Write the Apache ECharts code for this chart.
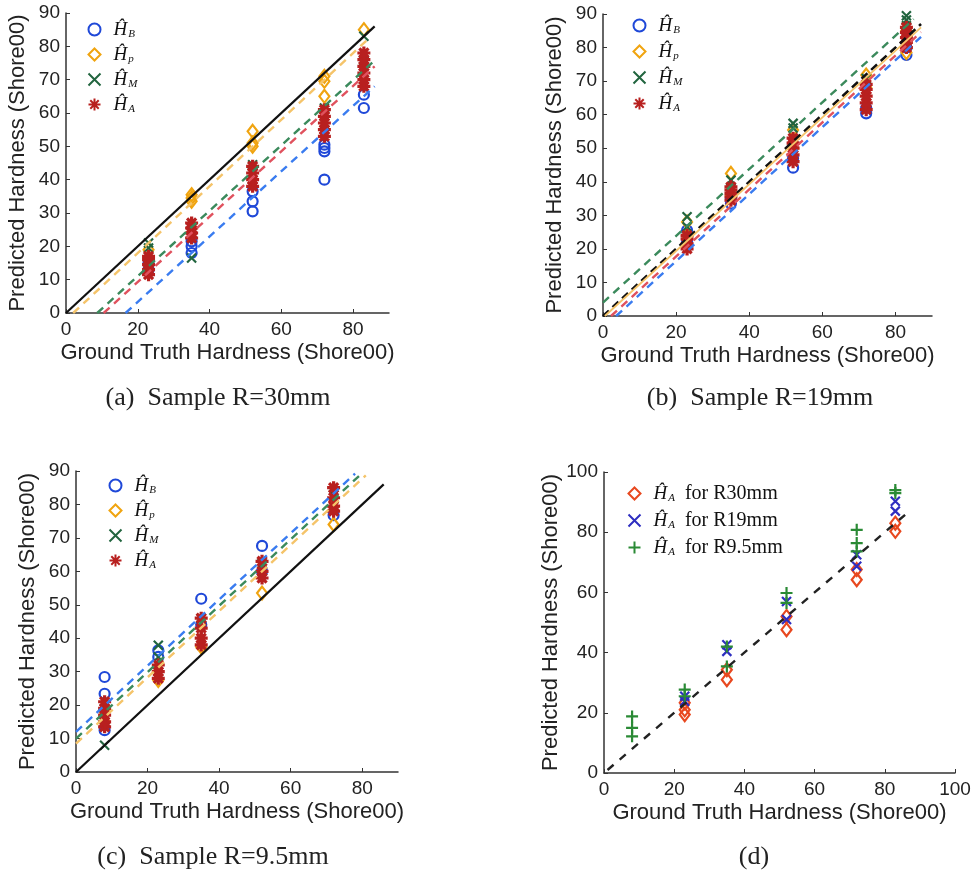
<!DOCTYPE html>
<html>
<head>
<meta charset="utf-8">
<script src="https://cdn.jsdelivr.net/npm/echarts@6/dist/echarts.min.js"></script>
<style>html,body{margin:0;padding:0;background:#fff}#c{width:974px;height:880px}</style>
</head>
<body>
<div id="c"></div>
<script>
// ---------- data ----------
// (a) Sample R=30mm
const xA = [23, 35, 52, 72, 83];
const aB = [[13, 15], [18, 20, 21.5], [30.5, 33.5, 36.5], [40, 48.5, 49.5, 50.5], [61.5, 65.5]];
const aP = [[19], [33.5, 34.5, 35.5], [50, 51, 54.5], [65, 69.5, 71], [85]];
const aM = [[19.5, 21], [16.5], [44.5], [61.5], [75.5, 83]];
const aA = [[11.5, 13, 14.5, 16, 17], [22.5, 24, 25.5, 27], [38, 40, 42, 44], [53, 55, 57, 59, 61], [68, 70, 72, 74, 76, 78]];
const aFitRef = [[0, 0], [86, 86]];
const aFitB = [[16.6, 0], [86, 68]];
const aFitA = [[10.5, 0], [86, 74]];
const aFitM = [[8.7, 0], [86, 75.8]];
const aFitP = [[2, 0], [84, 82]];

// (b) Sample R=19mm
const xB = [23, 35, 52, 72, 83];
const bB = [[22, 25.5], [33.5, 35], [44.2, 47], [60.4, 62], [77.8, 80]];
const bP = [[24, 28], [36, 42.5], [50, 55.4], [68, 71.8], [78.5, 85]];
const bM = [[26.6, 29.6], [38, 40.5], [56, 57.4], [70.8], [86.5, 88.2, 89.5]];
const bA = [[20, 21.5, 23, 24], [34.5, 35.5, 36.5, 37.5, 38.5], [46, 48, 50, 51.5, 53], [61.5, 63.5, 65.5, 67.5, 69], [80, 81.5, 83, 84.5, 86]];
const bFitRef = [[0, 0], [87, 87]];
const bFitM = [[0, 4], [85, 88.5]];
const bFitP = [[0.5, 0], [87, 86]];
const bFitA = [[2.2, 0], [87, 84.6]];
const bFitB = [[3.6, 0], [87, 83.2]];

// (c) Sample R=9.5mm
const xC = [8, 23, 35, 52, 72];
const cB = [[12.5, 23.4, 28.4], [34.4, 36.4], [44, 51.8], [60, 67.6], [76.8]];
const cP = [[15, 18], [27.4], [37.4], [53.5], [74]];
const cM = [[8], [34.4, 37.9], [45.9], [62.3], [82.8]];
const cA = [[13.5, 15, 17, 19, 21], [28, 30, 32], [38, 40, 43, 46], [58, 60, 63], [78, 79.5, 82, 85]];
const cFitRef = [[0, 0], [86, 86]];
const cFitB = [[0, 12], [78, 89.2]];
const cFitM = [[0, 10], [80.3, 89.7]];
const cFitP = [[0, 8.5], [81, 88.7]];

// (d) all samples, H_A
const xD = [8, 23, 35, 52, 72, 83];
const d30 = [[], [19.4, 21, 23.3], [31, 34.3], [47.6, 52], [64.2, 67.6], [80.3, 83]];
const d19 = [[], [23.8, 25.5], [40.4, 42.6], [51, 57], [68.7, 72.5], [87, 90.3]];
const d95 = [[12.2, 15, 18.8], [25.5, 27.7], [35.4, 42], [56.5, 59.8], [73.6, 76.4, 80.8], [93, 94]];
const dFitRef = [[1, 1], [86, 86]];

// tick labels
const ticks90x = [0, 20, 40, 60, 80];
const ticks100x = [0, 20, 40, 60, 80, 100];
const ticks90y = [0, 10, 20, 30, 40, 50, 60, 70, 80, 90];
const ticks100y = [0, 20, 40, 60, 80, 100];

const xTitle = 'Ground Truth Hardness (Shore00)';
const yTitle = 'Predicted Hardness (Shore00)';
const captions = ['(a)  Sample R=30mm', '(b)  Sample R=19mm', '(c)  Sample R=9.5mm', '(d)'];

// ---------- styles ----------
const C = {
  blue: '#1f48d8', gold: '#f0a410', green: '#22653f', red: '#b8201f',
  lblue: '#3a7cf0', lgold: '#f5c46a', lgreen: '#3b8a5c', lred: '#e0525e',
  d30: '#e8481f', d19: '#2e2ec0', d95: '#2a8a35'
};
const SYM = {
  x: 'path://M0,0L10,10M10,0L0,10',
  plus: 'path://M5,0L5,10M0,5L10,5',
  star: 'path://M5,0L5,10M0,5L10,5M1.5,1.5L8.5,8.5M8.5,1.5L1.5,8.5'
};

function pts(xs, groups) {
  const out = [];
  groups.forEach((g, i) => g.forEach(y => out.push([xs[i], y])));
  return out;
}

function scat(name, gi, data, kind, color) {
  const s = { type: 'scatter', name, xAxisIndex: gi, yAxisIndex: gi, data, z: 2, silent: true, animation: false };
  if (kind === 'o') { s.symbol = 'circle'; s.symbolSize = 10; s.itemStyle = { color: 'transparent', borderColor: color, borderWidth: 2.2, opacity: 1 }; }
  if (kind === 'd') { s.symbol = 'diamond'; s.symbolSize = [10, 13]; s.itemStyle = { color: 'transparent', borderColor: color, borderWidth: 2.2, opacity: 1 }; }
  if (kind === 'x') { s.symbol = SYM.x; s.symbolSize = 9; s.itemStyle = { color: 'none', borderColor: color, borderWidth: 2.2, opacity: 1 }; }
  if (kind === '+') { s.symbol = SYM.plus; s.symbolSize = 12; s.itemStyle = { color: 'none', borderColor: color, borderWidth: 2.2, opacity: 1 }; }
  if (kind === '*') { s.symbol = SYM.star; s.symbolSize = 13; s.itemStyle = { color: 'none', borderColor: color, borderWidth: 3.2, opacity: 1 }; }
  return s;
}
function fit(gi, data, color, dash, width) {
  return { type: 'line', xAxisIndex: gi, yAxisIndex: gi, data, showSymbol: false, symbol: 'none', z: 4, silent: true, animation: false,
    lineStyle: { color, width: width || 2.4, type: dash || 'solid' } };
}

const grids = [
  { left: 66, top: 13, width: 323, height: 300 },
  { left: 603, top: 14, width: 329, height: 302 },
  { left: 76, top: 471, width: 322, height: 301 },
  { left: 604, top: 472, width: 351, height: 301 }
];
const axisFont = { fontFamily: 'Liberation Sans', fontSize: 19, color: '#222' };
const nameFont = { fontFamily: 'Liberation Sans', fontSize: 22, color: '#222' };

function xAx(gi, max, tv) {
  return { type: 'value', gridIndex: gi, min: 0, max, name: xTitle, nameLocation: 'middle', nameGap: 29, nameTextStyle: nameFont,
    axisLine: { show: true, onZero: false, lineStyle: { color: '#333', width: 1.5 } },
    axisTick: { show: true, inside: true, length: 4, customValues: tv, lineStyle: { color: '#333' } },
    axisLabel: Object.assign({ margin: 7, customValues: tv }, axisFont), splitLine: { show: false } };
}
function yAx(gi, max, tv) {
  return { type: 'value', gridIndex: gi, min: 0, max, name: yTitle, nameLocation: 'middle', nameGap: 37, nameRotate: 90, nameTextStyle: nameFont,
    axisLine: { show: true, onZero: false, lineStyle: { color: '#333', width: 1.5 } },
    axisTick: { show: true, inside: true, length: 4, customValues: tv, lineStyle: { color: '#333' } },
    axisLabel: Object.assign({ margin: 6, customValues: tv }, axisFont), splitLine: { show: false } };
}

const labelMap = {
  aB: '{h|Ĥ}{s|B}', aP: '{h|Ĥ}{s|p}', aM: '{h|Ĥ}{s|M}', aA: '{h|Ĥ}{s|A}',
  bB: '{h|Ĥ}{s|B}', bP: '{h|Ĥ}{s|p}', bM: '{h|Ĥ}{s|M}', bA: '{h|Ĥ}{s|A}',
  cB: '{h|Ĥ}{s|B}', cP: '{h|Ĥ}{s|p}', cM: '{h|Ĥ}{s|M}', cA: '{h|Ĥ}{s|A}',
  d30: '{h|Ĥ}{s|A}{t|  for R30mm}', d19: '{h|Ĥ}{s|A}{t|  for R19mm}', d95: '{h|Ĥ}{s|A}{t|  for R9.5mm}'
};
const rich = {
  h: { fontFamily: 'Liberation Serif', fontStyle: 'italic', fontSize: 19, color: '#111', padding: [0, 0, 0, 8], lineHeight: 20 },
  s: { fontFamily: 'Liberation Serif', fontStyle: 'italic', fontSize: 11, color: '#111', padding: [10, 0, 0, 1], lineHeight: 20 },
  t: { fontFamily: 'Liberation Serif', fontSize: 20, color: '#111', lineHeight: 20 }
};
function leg(names, left, top, gap) {
  return { data: names, orient: 'vertical', left, top, itemWidth: 12, itemHeight: 12, itemGap: gap, selectedMode: false,
    formatter: n => labelMap[n], textStyle: { rich } };
}

const series = [
  scat('aB', 0, pts(xA, aB), 'o', C.blue), scat('aP', 0, pts(xA, aP), 'd', C.gold),
  scat('aM', 0, pts(xA, aM), 'x', C.green), scat('aA', 0, pts(xA, aA), '*', C.red),
  fit(0, aFitRef, '#111', 'solid', 2.2), fit(0, aFitP, C.lgold, [8, 6]), fit(0, aFitM, C.lgreen, [8, 6]),
  fit(0, aFitA, C.lred, [8, 6]), fit(0, aFitB, C.lblue, [8, 6]),

  scat('bB', 1, pts(xB, bB), 'o', C.blue), scat('bP', 1, pts(xB, bP), 'd', C.gold),
  scat('bM', 1, pts(xB, bM), 'x', C.green), scat('bA', 1, pts(xB, bA), '*', C.red),
  fit(1, bFitM, C.lgreen, [8, 6]), fit(1, bFitRef, '#111', [8, 5], 2.6), fit(1, bFitP, C.lgold, 'solid', 1.8),
  fit(1, bFitA, C.lred, [8, 6]), fit(1, bFitB, C.lblue, [8, 6]),

  scat('cB', 2, pts(xC, cB), 'o', C.blue), scat('cP', 2, pts(xC, cP), 'd', C.gold),
  scat('cM', 2, pts(xC, cM), 'x', C.green), scat('cA', 2, pts(xC, cA), '*', C.red),
  fit(2, cFitRef, '#111', 'solid', 2.2), fit(2, cFitB, C.lblue, [8, 6]), fit(2, cFitM, C.lgreen, [8, 6]),
  fit(2, cFitP, C.lgold, [8, 6]),

  scat('d30', 3, pts(xD, d30), 'd', C.d30), scat('d19', 3, pts(xD, d19), 'x', C.d19),
  scat('d95', 3, pts(xD, d95), '+', C.d95),
  fit(3, dFitRef, '#222', [8, 8], 2.4)
];

const capPos = [[218, 398], [760, 398], [213, 857], [754, 857]];
const graphic = captions.map((t, i) => ({
  type: 'text', x: capPos[i][0], y: capPos[i][1], silent: true,
  style: { text: t, font: '26px "Liberation Serif"', fill: '#222', align: 'center', verticalAlign: 'middle' }
}));

const chart = echarts.init(document.getElementById('c'), null, { renderer: 'canvas' });
chart.setOption({
  animation: false,
  backgroundColor: '#fff',
  grid: grids,
  xAxis: [xAx(0, 90, ticks90x), xAx(1, 90, ticks90x), xAx(2, 90, ticks90x), xAx(3, 100, ticks100x)],
  yAxis: [yAx(0, 90, ticks90y), yAx(1, 90, ticks90y), yAx(2, 90, ticks90y), yAx(3, 100, ticks100y)],
  legend: [
    leg(['aB', 'aP', 'aM', 'aA'], 81, 14, 4),
    leg(['bB', 'bP', 'bM', 'bA'], 626, 10, 5),
    leg(['cB', 'cP', 'cM', 'cA'], 102, 470, 4),
    leg(['d30', 'd19', 'd95'], 621, 478, 6)
  ],
  series,
  graphic
});
</script>
</body>
</html>
